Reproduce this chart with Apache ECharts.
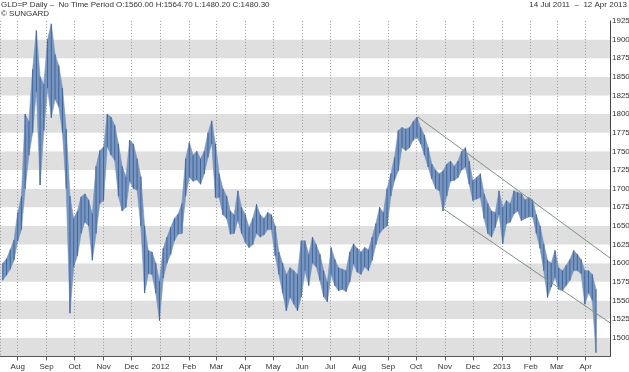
<!DOCTYPE html>
<html>
<head>
<meta charset="utf-8">
<script src="https://cdn.jsdelivr.net/npm/echarts@6/dist/echarts.min.js"></script>
<style>
html,body{margin:0;padding:0;background:#fff;}
#chart{width:629px;height:372px;}
</style>
</head>
<body>
<div id="chart"></div>
<script>
const startDate = Date.UTC(2011, 6, 16);
const stepDays = 4;
const highs = [
1600,1606,1618,1631,1668,1690,1800,1790,1860,1912,
1850,1840,1900,1921,1880,1865,1835,1780,1690,1660,
1670,1689,1693,1685,1667,1730,1751,1756,1800,1796,
1785,1760,1730,1716,1765,1760,1740,1716,1650,1617,
1615,1600,1576,1620,1635,1648,1660,1666,1680,1740,
1762,1745,1750,1740,1750,1775,1791,1760,1720,1700,
1690,1670,1665,1697,1675,1665,1648,1660,1679,1665,
1660,1668,1665,1650,1615,1600,1585,1594,1590,1585,
1630,1630,1612,1635,1625,1612,1590,1575,1621,1605,
1594,1592,1590,1615,1626,1620,1615,1621,1618,1635,
1653,1675,1668,1700,1720,1742,1778,1782,1780,1782,
1790,1796,1782,1772,1755,1733,1725,1720,1724,1733,
1737,1730,1737,1750,1755,1737,1711,1715,1720,1693,
1680,1670,1668,1697,1675,1684,1680,1697,1695,1693,
1685,1688,1685,1665,1650,1626,1604,1600,1617,1594,
1590,1597,1605,1617,1612,1605,1590,1590,1585,1565
];
const lows = [
1577,1584,1592,1604,1630,1645,1700,1745,1775,1830,
1705,1778,1835,1795,1820,1810,1775,1700,1533,1595,
1610,1640,1655,1650,1604,1640,1680,1684,1756,1745,
1738,1690,1670,1675,1710,1700,1698,1650,1560,1586,
1585,1560,1523,1580,1600,1612,1630,1639,1640,1690,
1715,1710,1712,1706,1720,1742,1760,1688,1688,1665,
1660,1639,1640,1657,1640,1628,1621,1625,1640,1635,
1638,1645,1645,1610,1585,1560,1536,1554,1545,1536,
1555,1590,1570,1600,1595,1577,1555,1548,1585,1570,
1563,1565,1562,1575,1599,1588,1585,1595,1590,1604,
1625,1640,1646,1650,1690,1711,1724,1755,1751,1755,
1765,1769,1760,1745,1729,1713,1700,1697,1670,1690,
1710,1711,1715,1725,1729,1706,1684,1686,1688,1660,
1640,1635,1648,1665,1626,1653,1655,1666,1670,1657,
1660,1662,1662,1640,1620,1590,1554,1568,1581,1565,
1563,1570,1577,1590,1590,1586,1545,1560,1550,1480
];
const yTicks = [1500,1525,1550,1575,1600,1625,1650,1675,1700,1725,1750,1775,1800,1825,1850,1875,1900,1925];
const monthNames = ['Jan','Feb','Mar','Apr','May','Jun','Jul','Aug','Sep','Oct','Nov','Dec'];
// channel lines: [date, value] endpoints
const upperLine = [[Date.UTC(2012, 9, 3), 1796], [Date.UTC(2013, 3, 27), 1607]];
const lowerLine = [[Date.UTC(2012, 9, 29), 1674], [Date.UTC(2013, 3, 27), 1520]];

const DAY = 86400000;
const barData = highs.map((h, i) => [startDate + i * stepDays * DAY, lows[i], h]);

const chart = echarts.init(document.getElementById('chart'), null, {renderer: 'canvas'});
const FONT = 'Liberation Sans, Arial, sans-serif';
chart.setOption({
  animation: false,
  useUTC: true,
  backgroundColor: '#ffffff',
  grid: {left: 0, right: 19, top: 20.9, bottom: 15.6, outerBoundsMode: 'none', containLabel: false},
  graphic: [
    {type: 'text', left: 1, top: 1, style: {text: 'GLD=P Daily \u2013  No Time Period O:1560.00 H:1564.70 L:1480.20 C:1480.30', font: '8px ' + FONT, fill: '#333'}},
    {type: 'text', left: 1, top: 10, style: {text: '\u00a9 SUNGARD', font: '8px ' + FONT, fill: '#333'}},
    {type: 'text', right: 2, top: 1, style: {text: '14 Jul 2011  \u2013  12 Apr 2013', font: '8px ' + FONT, fill: '#333'}}
  ],
  xAxis: {
    type: 'time',
    min: Date.UTC(2011, 6, 13),
    max: Date.UTC(2013, 3, 27),
    minInterval: 28 * DAY,
    maxInterval: 31 * DAY,
    axisLine: {show: true, lineStyle: {color: '#555', width: 1}},
    axisTick: {show: true, length: 4, lineStyle: {color: '#555'}},
    axisLabel: {
      fontSize: 8, fontFamily: FONT, color: '#333', margin: 6, hideOverlap: false,
      formatter: function (v) {
        const d = new Date(v);
        return d.getUTCMonth() === 0 ? String(d.getUTCFullYear()) : monthNames[d.getUTCMonth()];
      }
    },
    splitLine: {show: true, lineStyle: {color: '#999', width: 1, type: [1, 2]}}
  },
  yAxis: {
    type: 'value',
    position: 'right',
    min: 1475, max: 1925, interval: 25,
    axisLine: {show: true, lineStyle: {color: '#444', width: 1}},
    axisTick: {show: false},
    axisLabel: {
      fontSize: 8, fontFamily: FONT, color: '#333', margin: 2,
      formatter: function (v) { return yTicks.indexOf(v) >= 0 ? String(v) : ''; }
    },
    splitLine: {show: false},
    splitArea: {show: true, areaStyle: {color: ['#dfdfdf', '#ffffff']}}
  },
  series: [
    {
      type: 'custom',
      data: barData,
      clip: true,
      renderItem: function (params, api) {
        const i = params.dataIndex;
        const t = api.value(0), lo = api.value(1), hi = api.value(2);
        const cTop = api.coord([t, hi]);
        const cBot = api.coord([t, lo]);
        const children = [];
        if (i < barData.length - 1) {
          const n = barData[i + 1];
          const nTop = api.coord([n[0], n[2]]);
          const nBot = api.coord([n[0], n[1]]);
          children.push({type: 'polygon', shape: {points: [cTop, nTop, nBot, cBot]},
            style: {fill: '#7795bf', stroke: '#7795bf', lineWidth: 0.6}});
        }
        children.push({type: 'line', shape: {x1: cTop[0], y1: cTop[1], x2: cBot[0], y2: cBot[1]},
          style: {stroke: '#40669a', lineWidth: 1}});
        return {type: 'group', children: children};
      }
    },
    {type: 'line', data: upperLine, showSymbol: false, symbol: 'none', silent: true, z: 5,
     lineStyle: {color: '#7d9282', width: 1}},
    {type: 'line', data: lowerLine, showSymbol: false, symbol: 'none', silent: true, z: 5,
     lineStyle: {color: '#7d9282', width: 1}}
  ]
});
</script>
</body>
</html>
